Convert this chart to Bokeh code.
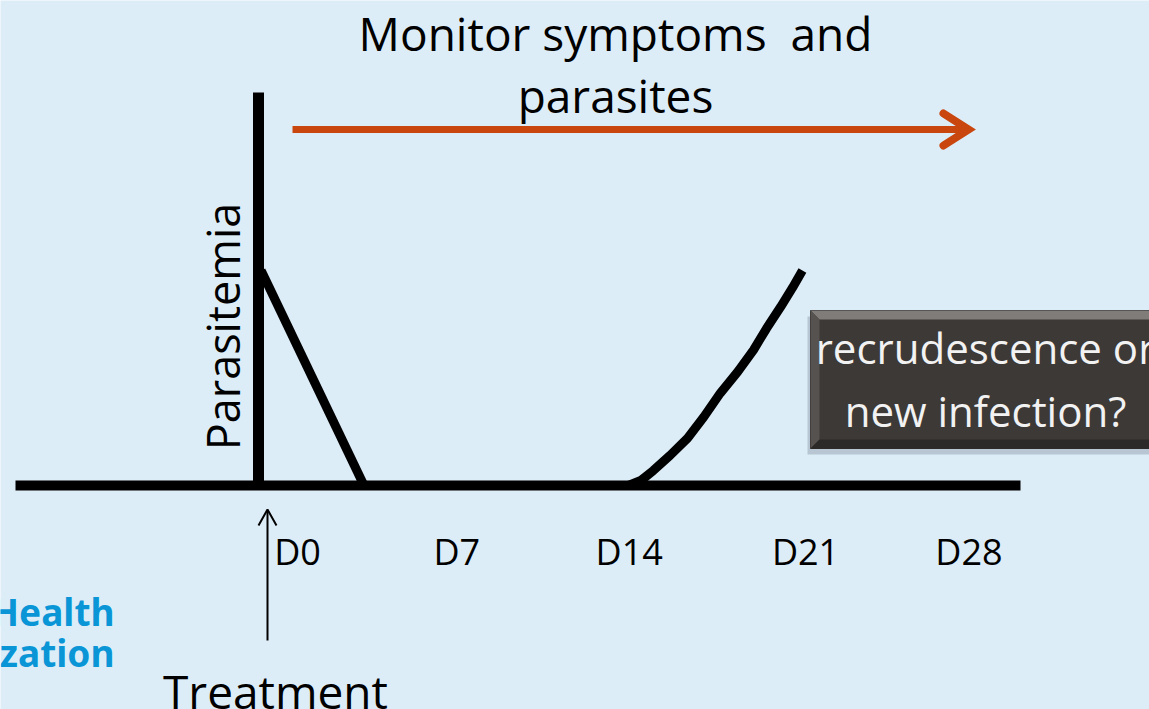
from bokeh.plotting import figure
from bokeh.models import Range1d
from bokeh.core.properties import value
from bokeh.embed import file_html
from bokeh.resources import INLINE

# ---- data ----
drop_days = [0.1, 4.05]
drop_parasitemia = [1.0, 0.0]
rise_days = [14.2, 14.7, 15.16, 15.8, 16.47, 17.1, 17.73, 18.4, 19.0, 19.5, 20.04, 20.5, 20.88]
rise_parasitemia = [0.0, 0.025, 0.07, 0.14, 0.22, 0.32, 0.43, 0.53, 0.63, 0.73, 0.83, 0.92, 1.0]
tick_days = [0, 7, 14, 21, 28]
tick_labels = ["D0", "D7", "D14", "D21", "D28"]
title_lines = ["Monitor symptoms\u00a0\u00a0and", "parasites"]
box_lines = ["recrudescence or", "new infection?"]

# ---- layout helpers (pixel -> data) ----
X0, PX_PER_DAY = 258.0, 26.05
Y0, PX_PER_UNIT = 485.0, 215.0
def X(px):
    return (px - X0) / PX_PER_DAY
def Y(py):
    return (Y0 - py) / PX_PER_UNIT

W, H = 1149, 709
BG = "#ddedf8"
FONT = value("Open Sans")

p = figure(width=W, height=H, output_backend="svg", toolbar_location=None,
           x_range=Range1d(X(0), X(W)), y_range=Range1d(Y(H), Y(0)),
           min_border=0, background_fill_color=BG, border_fill_color=BG,
           outline_line_color=None)
p.axis.visible = False
p.grid.visible = False

# axes of the diagram
p.line([X(15), X(1020)], [0, 0], line_color="black", line_width=10)
p.line([0, 0], [0, Y(92)], line_color="black", line_width=11)

# parasitemia curves
p.line(drop_days, drop_parasitemia, line_color="black", line_width=9, line_join="round")
p.line(rise_days, rise_parasitemia, line_color="black", line_width=9, line_join="round")

# tick labels
label_offsets = [39, 16, 6, 0, -19]
p.text([d + X(258 + o) for d, o in zip(tick_days, label_offsets)], [Y(551)] * 5,
       text=tick_labels, text_font=FONT, text_font_size="36px",
       text_align="center", text_baseline="middle", text_color="black")

# orange monitoring arrow
ORANGE = "#c9470e"
p.line([X(292), X(962)], [Y(129), Y(129)], line_color=ORANGE, line_width=7)
p.line([X(943), X(968), X(943)], [Y(113), Y(129), Y(145)], line_color=ORANGE,
       line_width=8, line_cap="round", line_join="miter")

# title text
p.text([X(615), X(615)], [Y(32), Y(94)], text=title_lines, text_font=FONT,
       text_font_size="46px", text_align="center", text_baseline="middle",
       text_color="black")

# y label
p.text([X(222)], [Y(326)], text=["Parasitemia"], text_font=FONT,
       text_font_size="45px", angle=1.5708, text_align="center",
       text_baseline="middle", text_color="black")

# treatment arrow
p.line([X(267), X(267)], [Y(640), Y(510)], line_color="black", line_width=2)
p.line([X(258), X(267), X(276)], [Y(525), Y(509), Y(525)], line_color="black", line_width=2)
p.text([X(275)], [Y(690)], text=["Treatment"], text_font=FONT, text_font_size="46px",
       text_align="center", text_baseline="middle", text_color="black")

# partial logo text
p.text([X(114), X(114)], [Y(611), Y(652)], text=["Health", "zation"],
       text_font=value("Noto Sans"), text_font_style="bold", text_font_size="37px",
       text_align="right", text_baseline="middle", text_color="#0a96d6")

# dark bevelled box
L, T, R, B = 810, 310, 1170, 448
p.quad(left=[X(L - 3)], right=[X(R)], top=[Y(T + 6)], bottom=[Y(B + 6)],
       fill_color="#8a97a3", fill_alpha=0.45, line_color=None)
p.quad(left=[X(L)], right=[X(R)], top=[Y(T)], bottom=[Y(B)],
       fill_color="#3c3937", line_color="#2e2c2b", line_width=1)
bv = 9
p.patch([X(L), X(R), X(R), X(L + bv)], [Y(T), Y(T), Y(T + bv), Y(T + bv)],
        fill_color="#7f7c7a", line_color=None)
p.patch([X(L), X(L + bv), X(L + bv), X(L)], [Y(T), Y(T + bv), Y(B - bv), Y(B)],
        fill_color="#555250", line_color=None)
p.patch([X(L), X(L + bv), X(R), X(R)], [Y(B), Y(B - bv), Y(B - bv), Y(B)],
        fill_color="#2c2a29", line_color=None)
p.text([X(985), X(985)], [Y(347), Y(410)], text=box_lines, text_font=FONT,
       text_font_size="42px", text_align="center", text_baseline="middle",
       text_color="#f2f2f2")

open("out.html", "w").write(file_html(p, INLINE))
